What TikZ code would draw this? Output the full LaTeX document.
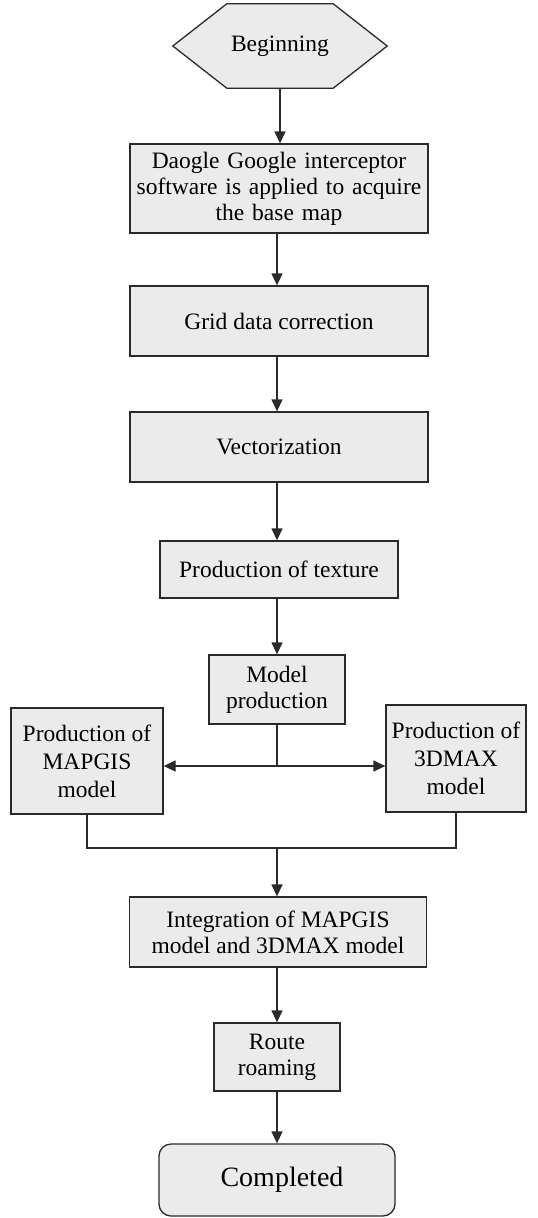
\documentclass[tikz,border=0pt]{standalone}
\usepackage{fontspec}
\setmainfont{Liberation Serif}
\usetikzlibrary{arrows.meta,backgrounds}
\definecolor{boxfill}{HTML}{EBEBEB}
\definecolor{edge}{HTML}{2A2A2A}
\begin{document}
\begin{tikzpicture}[x=1pt,y=-1pt,
  box/.style={draw=edge,fill=boxfill,line width=1.3pt,inner sep=2pt,align=center,
    font=\fontsize{23.5}{26}\selectfont},
  conn/.style={draw=edge,line width=1.3pt},
  arr/.style={conn,-{Triangle[length=12pt,width=11pt]}}]
\useasboundingbox (0,0) rectangle (538,1218);
% nodes
\node[align=center,inner sep=0pt,minimum width=106pt,minimum height=84pt,
  font=\fontsize{23.5}{26}\selectfont] (begin) at (280,46) {Beginning};
\begin{scope}[on background layer]
\draw[conn,fill=boxfill] (begin.north west) -- (begin.north east) -- ([xshift=54pt]begin.east)
  -- (begin.south east) -- (begin.south west) -- ([xshift=-54pt]begin.west) -- cycle;
\end{scope}
\node[box,minimum width=298pt,minimum height=89pt,text width=292pt] (daogle) at (279,188.5)
  {Daogle Google interceptor\\software is applied to acquire\\the base map};
\node[box,minimum width=298pt,minimum height=70pt] (grid) at (279,321) {Grid data correction};
\node[box,minimum width=298pt,minimum height=70pt] (vect) at (279,447) {Vectorization};
\node[box,minimum width=238pt,minimum height=57pt] (tex) at (279,569.5) {Production of texture};
\node[box,minimum width=136pt,minimum height=69pt] (model) at (277,689.5) {Model\\production};
\node[box,minimum width=152pt,minimum height=106pt,
  font=\fontsize{23.5}{28}\selectfont] (mapgis) at (87,761) {Production of\\MAPGIS\\model};
\node[box,minimum width=140pt,minimum height=107pt,
  font=\fontsize{23.5}{28}\selectfont] (max3d) at (456,758.5) {Production of\\3DMAX\\model};
\node[box,minimum width=297pt,minimum height=70pt] (integ) at (278,932)
  {Integration of MAPGIS\\model and 3DMAX model};
\node[box,minimum width=126pt,minimum height=68pt] (route) at (277,1057) {Route\\roaming};
\node[box,rounded corners=12pt,minimum width=236pt,minimum height=72pt,
  font=\fontsize{28}{32}\selectfont] (done) at (277,1180) {\hspace*{10pt}Completed};
% connectors
\coordinate (split) at (277,766);
\coordinate (join) at (277,848);
\draw[arr] (begin.south) -- (begin.south |- daogle.north);
\draw[arr] (daogle.south -| 277,0) -- (grid.north -| 277,0);
\draw[arr] (grid.south -| 277,0) -- (vect.north -| 277,0);
\draw[arr] (vect.south -| 277,0) -- (tex.north -| 277,0);
\draw[arr] (tex.south -| 277,0) -- (model.north);
\draw[conn] (model.south) -- (split);
\draw[arr] (split) -- (mapgis.east |- split);
\draw[arr] (split) -- (max3d.west |- split);
\draw[conn] (mapgis.south) |- (join) -| (max3d.south);
\draw[arr] (join) -- (integ.north -| join);
\draw[arr] (integ.south -| 277,0) -- (route.north);
\draw[arr] (route.south) -- (done.north);
\end{tikzpicture}
\end{document}
